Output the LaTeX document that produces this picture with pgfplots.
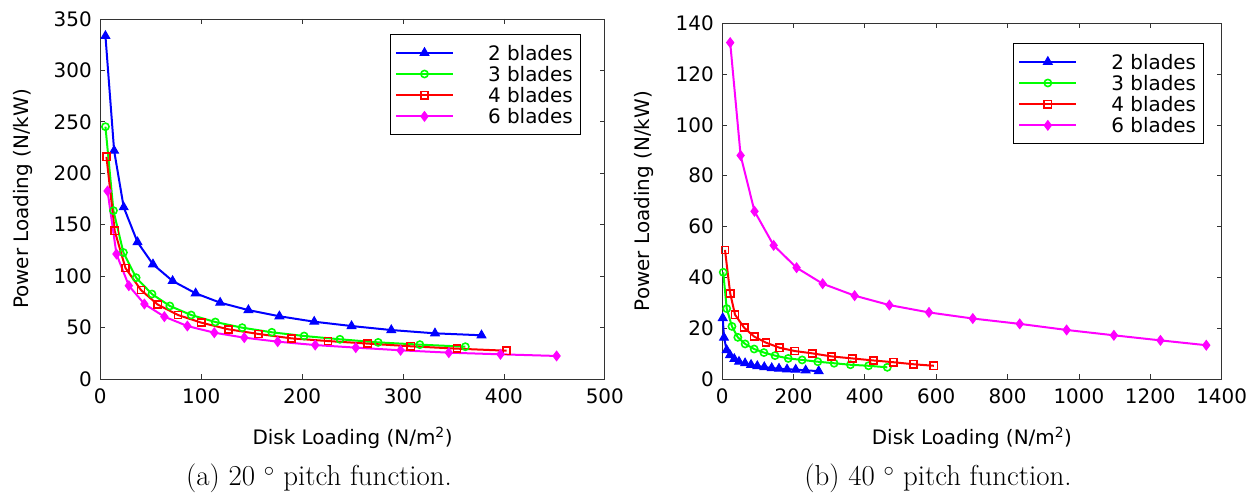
\documentclass[border=0pt]{standalone}
\usepackage{fontspec}
\usepackage{pgfplots}
\pgfplotsset{compat=1.18}
\newfontfamily\djv{DejaVu Sans}
\definecolor{gblue}{RGB}{0,0,255}
\definecolor{ggreen}{RGB}{0,255,0}
\definecolor{gred}{RGB}{255,0,0}
\definecolor{gmag}{RGB}{255,0,255}
\pgfplotsset{
  myax/.style={
    scale only axis,
    anchor=south west,
    axis line style={black!80, line width=0.8bp},
    every tick/.style={black!80, line width=0.8bp},
    major tick length=5bp,
    tick align=inside,
    scaled ticks=false,
    /pgf/number format/1000 sep={},
    /pgf/number format/assume math mode=true,
    tick label style={font=\djv\fontsize{20}{23}\selectfont},
    yticklabel style={xshift=-5bp},
    xticklabel style={yshift=-6bp},
    label style={font=\djv\fontsize{20}{23}\selectfont},
    legend cell align=left,
    legend style={draw=black, line width=0.8bp, fill=white, inner xsep=5bp, inner ysep=7.5bp,
      font=\djv\fontsize{20}{21}\selectfont,
      nodes={inner xsep=2.5bp, inner ysep=3.1bp, text height=15bp, text depth=0bp}, row sep=0bp},
    legend image code/.code={\draw[mark repeat=2,mark phase=2] plot coordinates {(0bp,0bp) (28.5bp,0bp) (57bp,0bp)};},
  },
  s2/.style={gblue, line width=2bp, mark=triangle*, mark size=5bp, mark options={solid, fill=gblue, line width=1bp}},
  s3/.style={ggreen, line width=2bp, mark=o, mark size=3.6bp, mark options={solid, line width=1.6bp}},
  s4/.style={gred, line width=2bp, mark=square, mark size=3.6bp, mark options={solid, line width=1.6bp}},
  s6/.style={gmag, line width=2bp, mark=diamond*, mark size=4.8bp, mark options={solid, fill=gmag, line width=1bp}},
}
\begin{document}
\begin{tikzpicture}
\path[use as bounding box] (0,0) rectangle (1255bp,495bp);
\begin{axis}[myax, at={(100.3bp,116bp)}, width=504.5bp, height=360bp,
  xmin=0, xmax=500, ymin=0, ymax=350,
  xtick={0,100,...,500}, ytick={0,50,...,350},
  xlabel={Disk Loading (N/m\textsuperscript{2})},
  ylabel={Power Loading (N/kW)},
  xlabel style={at={(axis description cs:0.5,-0.164)}, anchor=center},
  ylabel style={at={(axis description cs:-0.154,0.5)}, anchor=center},
  legend style={at={(axis description cs:0.9522,0.9575)}, anchor=north east},
]
\addplot[s2] coordinates {
(5.1,333.5) (13.7,222) (23.2,167) (36.9,133) (52.2,111.5) (71.7,95.3) (94.5,83.3) (118.8,74.2) (146.8,67) (177.5,61) (212,55.7) (249,51.5) (288.4,47.6) (331.7,44.4) (377.8,42.5)};
\addlegendentry{\hspace*{31.6bp}2 blades}
\addplot[s3] coordinates {
(5.1,245.3) (13,163.7) (22.9,123) (35.5,98.5) (51.2,82.6) (68.9,71) (90.1,62.2) (114,55.4) (140.6,49.9) (170,45.4) (202,41.8) (237.5,38.6) (275.4,35.6) (316.7,33.4) (361.8,31.4)};
\addlegendentry{\hspace*{31.6bp}3 blades}
\addplot[s4] coordinates {
(6.1,216) (14.3,144) (24.9,108) (40.3,86.5) (57,72.3) (77.1,62.2) (100,54.8) (127,48.3) (156.7,43.8) (189.4,39.5) (225.6,36.9) (265.2,34.4) (307.8,31.8) (353.6,29.5) (402.7,27.5)};
\addlegendentry{\hspace*{31.6bp}4 blades}
\addplot[s6] coordinates {
(7.2,182.8) (16,121.5) (28.3,90.7) (43.7,72.9) (63.5,60.6) (86.3,51.5) (113,45) (142.7,40.2) (175.8,36.3) (213,33) (253.2,30.5) (297.6,27.9) (345.4,25.6) (396.6,24) (452.2,22.4)};
\addlegendentry{\hspace*{31.6bp}6 blades}
\end{axis}
\begin{axis}[myax, at={(722.2bp,116bp)}, width=499.4bp, height=355.7bp,
  xmin=0, xmax=1400, ymin=0, ymax=140,
  xtick={0,200,...,1400}, ytick={0,20,...,140},
  xlabel={Disk Loading (N/m\textsuperscript{2})},
  ylabel={Power Loading (N/kW)},
  xlabel style={at={(axis description cs:0.5,-0.166)}, anchor=center},
  ylabel style={at={(axis description cs:-0.156,0.5)}, anchor=center},
  legend style={at={(axis description cs:0.9648,0.9438)}, anchor=north east},
]
\addplot[s2] coordinates {
(1.5,24) (5,16.3) (12.6,11.4) (21.9,9.4) (33.9,7.9) (47.1,6.8) (64.1,6.2) (80.9,5.6) (98.4,5.1) (118,4.7) (138.8,4.3) (159.2,4.1) (181.7,3.8) (206,3.7) (234,3.4) (270.5,3.1)};
\addlegendentry{\hspace*{31.6bp}2 blades}
\addplot[s3] coordinates {
(2.9,42) (12.7,27.7) (27.3,20.7) (43.8,16.4) (64.3,13.8) (89.6,11.8) (116.9,10.4) (148.1,9.2) (185.1,8.1) (224.1,7.5) (268,6.8) (313.7,6.2) (359.5,5.6) (410.2,5.2) (462.8,4.6)};
\addlegendentry{\hspace*{31.6bp}3 blades}
\addplot[s4] coordinates {
(7.8,50.8) (22.4,33.7) (36,25.3) (61.4,20.2) (89.6,16.7) (122.8,14.3) (160.8,12.3) (203.6,11) (252.3,10.1) (306,8.9) (364.4,8.1) (423.8,7.3) (480.3,6.6) (536.8,5.8) (593.3,5.2)};
\addlegendentry{\hspace*{31.6bp}4 blades}
\addplot[s6] coordinates {
(22.4,132.4) (51.6,88) (90.6,66) (144.2,52.6) (208.5,43.8) (281.6,37.5) (371.2,32.8) (468.6,29.1) (579.7,26.2) (702.5,23.8) (834,21.7) (965.5,19.3) (1098,17.2) (1228.6,15.2) (1357,13.3)};
\addlegendentry{\hspace*{31.6bp}6 blades}
\end{axis}
\node[font=\fontsize{29}{34}\selectfont, anchor=base] at (319bp,10bp) {(a) 20 $^\circ$ pitch function.};
\node[font=\fontsize{29}{34}\selectfont, anchor=base] at (938bp,10bp) {(b) 40 $^\circ$ pitch function.};
\end{tikzpicture}
\end{document}
